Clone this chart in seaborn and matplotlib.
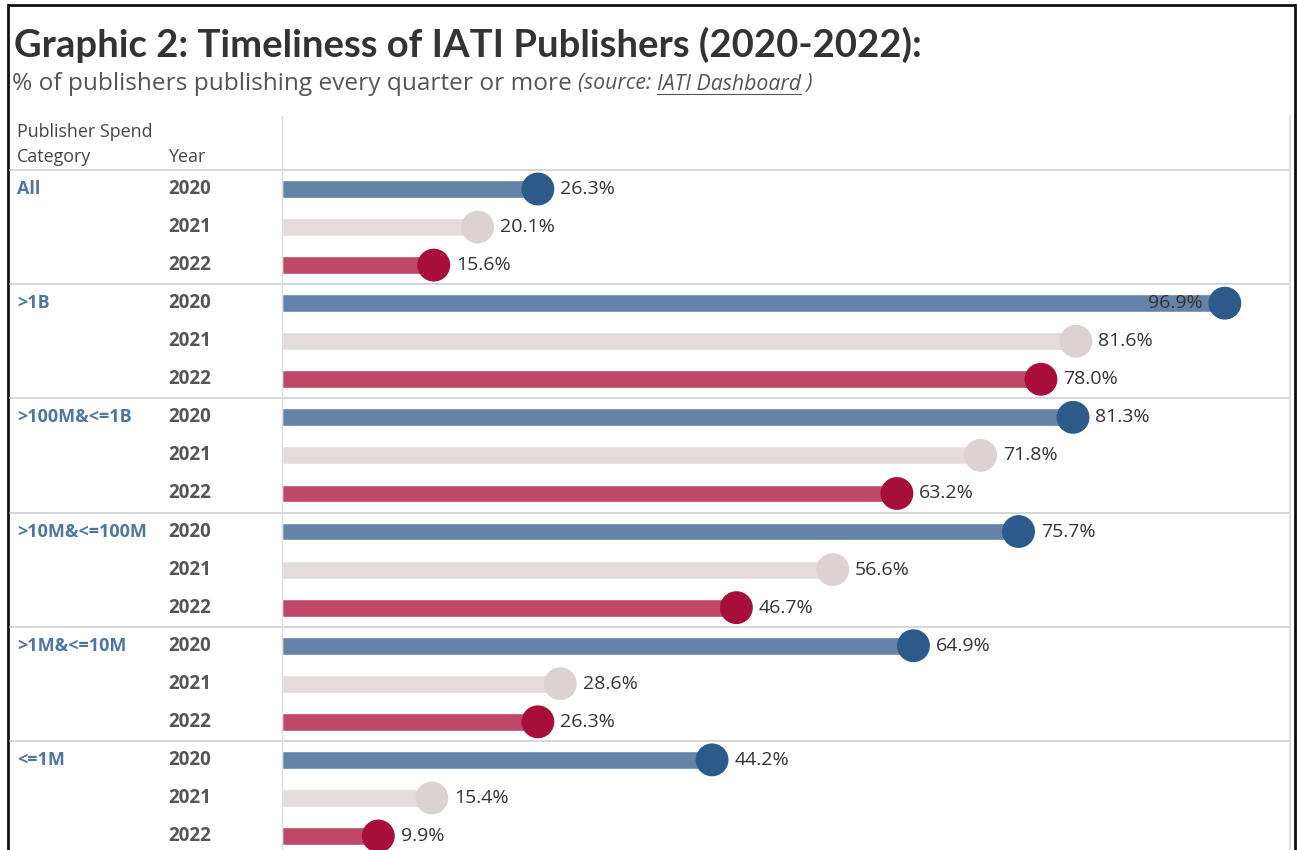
import matplotlib
matplotlib.use("Agg")
import matplotlib.pyplot as plt
from matplotlib.lines import Line2D
from matplotlib.patches import Rectangle
import seaborn as sns
import pandas as pd

categories = ["All", ">1B", ">100M&<=1B", ">10M&<=100M", ">1M&<=10M", "<=1M"]
years = ["2020", "2021", "2022"]
values_2020 = [26.3, 96.9, 81.3, 75.7, 64.9, 44.2]
values_2021 = [20.1, 81.6, 71.8, 56.6, 28.6, 15.4]
values_2022 = [15.6, 78.0, 63.2, 46.7, 26.3, 9.9]

bar_colors = {"2020": "#6383A8", "2021": "#E4DCDB", "2022": "#BF4767"}
dot_colors = {"2020": "#2C5A89", "2021": "#DCD2D1", "2022": "#A70E38"}

rows = []
for ci, cat in enumerate(categories):
    for yi, (yr, vals) in enumerate(zip(years, [values_2020, values_2021, values_2022])):
        rows.append({"category": cat, "year": yr, "value": vals[ci], "row": ci * 3 + yi})
df = pd.DataFrame(rows)

sns.set_theme(style="white")
BODY = ["Open Sans", "DejaVu Sans"]
TITLE = ["Lato", "DejaVu Sans"]
plt.rcParams["font.family"] = BODY

W, H = 1297, 850
fig = plt.figure(figsize=(W / 100, H / 100), dpi=100)

def fx(px):
    return px / W

def fy(py):
    return 1 - py / H

ax_left, ax_right, ax_top = 282, 1289, 116
ax = fig.add_axes([fx(ax_left), 0, fx(ax_right) - fx(ax_left), fy(ax_top)])
px_per_pct = 9.73
row0, row_step = 189, (836 - 189) / 17

sns.barplot(data=df, x="value", y="row", hue="year", palette=bar_colors, orient="h",
            native_scale=True, width=0.47, dodge=False, legend=False, saturation=1,
            ax=ax, zorder=2)
sns.scatterplot(data=df, x="value", y="row", hue="year", palette=dot_colors, s=560,
                legend=False, edgecolor="none", linewidth=0, ax=ax, zorder=3)

ax.set_xlim(0, (ax_right - ax_left) / px_per_pct)
ax.set_ylim(17 + (H - 836) / row_step, -(row0 - ax_top) / row_step)
ax.axis("off")

# value labels
for _, r in df.iterrows():
    if r["value"] > 95:
        ax.annotate(f"{r['value']:.1f}%", (r["value"], r["row"]), xytext=(-16, 0),
                    textcoords="offset points", ha="right", va="center",
                    fontsize=14, color="#333333", zorder=4)
    else:
        ax.annotate(f"{r['value']:.1f}%", (r["value"], r["row"]), xytext=(16, 0),
                    textcoords="offset points", ha="left", va="center",
                    fontsize=14, color="#333333", zorder=4)

def row_py(r):
    return row0 + r * row_step

# separators
for k in range(6):
    py = row_py(3 * k - 0.5)
    fig.add_artist(Line2D([fx(10), fx(1290)], [fy(py), fy(py)], color="#CFCFCF", lw=1.2))
# vertical lines
fig.add_artist(Line2D([fx(282), fx(282)], [fy(116), 0], color="#DDDDDD", lw=1))
fig.add_artist(Line2D([fx(1290), fx(1290)], [fy(116), 0], color="#DDDDDD", lw=1.5))

# left labels
for ci, cat in enumerate(categories):
    fig.text(fx(17), fy(row_py(ci * 3)), cat, ha="left", va="center", fontsize=13,
             color="#4F76A3", fontweight="bold")
    for yi, yr in enumerate(years):
        fig.text(fx(168), fy(row_py(ci * 3 + yi)), yr, ha="left", va="center", fontsize=13.5,
                 color="#555555", fontweight="bold")

fig.text(fx(17), fy(132), "Publisher Spend", ha="left", va="center", fontsize=12.9, color="#444444")
fig.text(fx(17), fy(157), "Category", ha="left", va="center", fontsize=12.9, color="#444444")
fig.text(fx(168), fy(157), "Year", ha="left", va="center", fontsize=12.9, color="#444444")

# title
fig.text(fx(14), fy(45), "Graphic 2: Timeliness of IATI Publishers (2020-2022):", ha="left",
         va="center", fontsize=27.5, fontweight="bold", color="#333333", family=TITLE)

# subtitle
renderer = fig.canvas.get_renderer()
x = fx(12)
ysub = fy(84)
parts = [("% of publishers publishing every quarter or more ", "normal", False, 17.6),
         ("(source: ", "italic", False, 15.3),
         ("IATI Dashboard", "italic", True, 15.3),
         (" )", "italic", False, 15.3)]
for txt, style, underline, fs in parts:
    t = fig.text(x, ysub, txt, ha="left", va="center", fontsize=fs, style=style, color="#555555")
    bb = t.get_window_extent(renderer)
    if underline:
        uy = bb.y0 + 1
        fig.add_artist(Line2D([bb.x0 / W, bb.x1 / W], [uy / H, uy / H], color="#555555", lw=0.8))
    x = bb.x1 / W

# outer border
fig.add_artist(Rectangle((fx(8), -0.01), fx(1295) - fx(8), fy(5) + 0.01, fill=False,
                         edgecolor="#111111", lw=2))

fig.savefig("out.png", dpi=100)
